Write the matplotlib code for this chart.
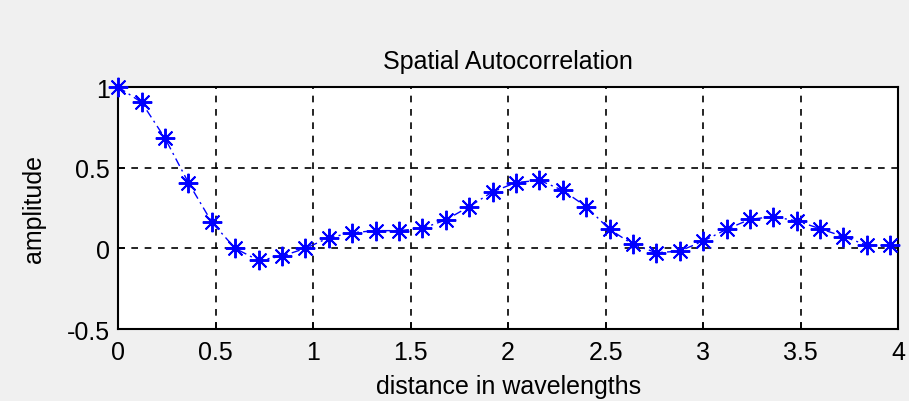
import matplotlib.pyplot as plt
import numpy as np

# sample spacing in wavelengths
dx = 0.12
amplitude = [1.0, 0.905, 0.683, 0.408, 0.163, 0.0, -0.075, -0.048, 0.0, 0.066,
             0.097, 0.11, 0.11, 0.124, 0.176, 0.259, 0.35, 0.408, 0.422, 0.36,
             0.259, 0.118, 0.025, -0.027, -0.017, 0.045, 0.118, 0.18, 0.197, 0.17,
             0.122, 0.073, 0.02, 0.02]
distance = np.arange(len(amplitude)) * dx

xticks = [0, 0.5, 1, 1.5, 2, 2.5, 3, 3.5, 4]
xticklabels = ['0', '0.5', '1', '1.5', '2', '2.5', '3', '3.5', '4']
yticks = [-0.5, 0, 0.5, 1]
yticklabels = ['-0.5', '0', '0.5', '1']

plt.rcParams['font.family'] = ['Liberation Sans', 'DejaVu Sans']
fs = 18

fig = plt.figure(figsize=(9.09, 4.02), dpi=100, facecolor='#f0f0f0')
ax = fig.add_axes([0.13, 0.179, 0.858, 0.602])
ax.set_facecolor('white')

ax.plot(distance, amplitude, color='blue', linestyle=(0, (6, 3, 1.5, 3)), linewidth=1.0,
        marker=(8, 2, 0), markersize=14, markeredgewidth=1.4, clip_on=False, zorder=3)

ax.set_xlim(0, 4)
ax.set_ylim(-0.5, 1)
ax.set_xticks(xticks)
ax.set_xticklabels(xticklabels)
ax.set_yticks(yticks)
ax.set_yticklabels(yticklabels)
ax.tick_params(direction='in', length=5, width=1.2, labelsize=fs)
ax.tick_params(axis='x', pad=8)
ax.tick_params(axis='y', pad=6)
ax.grid(True, color='black', linestyle=(0, (4, 4)), linewidth=1.2)
for s in ax.spines.values():
    s.set_linewidth(1.5)

ax.set_title('Spatial Autocorrelation', fontsize=fs, pad=14)
ax.set_xlabel('distance in wavelengths', fontsize=fs, labelpad=7)
ax.set_ylabel('amplitude', fontsize=fs, labelpad=15)

fig.savefig('out.png', dpi=100, facecolor=fig.get_facecolor())
